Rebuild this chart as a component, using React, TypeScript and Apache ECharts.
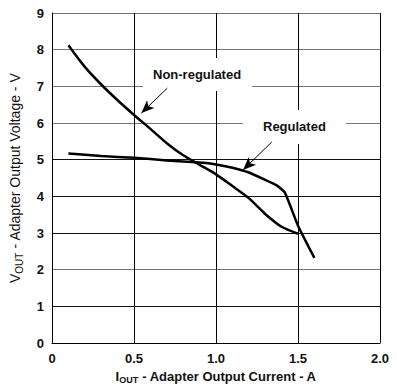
import React, { useEffect, useRef } from "react";
import * as echarts from "echarts";

const regulatedX = [0.1, 0.3, 0.5, 0.7, 0.9, 1.0, 1.1, 1.2, 1.3, 1.37, 1.42, 1.5, 1.6];
const regulatedY = [5.17, 5.1, 5.05, 4.98, 4.92, 4.87, 4.78, 4.65, 4.45, 4.3, 4.1, 3.2, 2.32];

const nonRegX = [0.1, 0.2, 0.3, 0.4, 0.5, 0.6, 0.7, 0.8, 0.9, 1.0, 1.1, 1.2, 1.3, 1.4, 1.5];
const nonRegY = [8.12, 7.53, 7.05, 6.62, 6.22, 5.84, 5.45, 5.12, 4.86, 4.6, 4.28, 3.95, 3.52, 3.17, 2.98];

const xTicks = ["0", "0.5", "1.0", "1.5", "2.0"];

const FONT = "'Liberation Sans', Arial, sans-serif";

export default function App() {
  const ref = useRef<HTMLDivElement>(null);
  useEffect(() => {
    if (!ref.current) return;
    const chart = echarts.init(ref.current, null, { renderer: "svg" });
    const ySplitColors = ["#000", "#111", "#777", "#111", "#111", "#111", "#777", "#777", "#777", "#777"];
    chart.setOption({
      animation: false,
      backgroundColor: "#fff",
      grid: { left: 50, top: 13, right: 17, bottom: 49, containLabel: false },
      xAxis: {
        type: "value",
        min: 0,
        max: 2,
        interval: 0.5,
        name: "{a|I}{s|OUT}{a| - Adapter Output Current - A}",
        nameLocation: "middle",
        nameGap: 26,
        nameTextStyle: {
          rich: {
            a: { fontFamily: FONT, fontSize: 13, fontWeight: "bold", color: "#111", verticalAlign: "bottom" },
            s: { fontFamily: FONT, fontSize: 9, fontWeight: "bold", color: "#111", verticalAlign: "bottom", padding: [0, 0, -2, 0] },
          },
        },
        axisLine: { show: true, lineStyle: { color: "#000", width: 1 } },
        axisTick: { show: false },
        axisLabel: {
          fontFamily: FONT,
          fontSize: 13,
          fontWeight: "bold",
          color: "#111",
          margin: 9,
          formatter: (v: number) => xTicks[Math.round(v / 0.5)] ?? String(v),
        },
        splitLine: { show: true, lineStyle: { color: "#000", width: 1 } },
      },
      yAxis: {
        type: "value",
        min: 0,
        max: 9,
        interval: 1,
        name: "{a|V}{s|OUT}{a| - Adapter Output Voltage - V}",
        nameLocation: "middle",
        nameGap: 30,
        nameRotate: 90,
        nameTextStyle: {
          rich: {
            a: { fontFamily: FONT, fontSize: 14, color: "#111", verticalAlign: "bottom" },
            s: { fontFamily: FONT, fontSize: 10, color: "#111", verticalAlign: "bottom", padding: [0, 0, -2, 0] },
          },
        },
        axisLine: { show: true, lineStyle: { color: "#000", width: 1 } },
        axisTick: { show: false },
        axisLabel: {
          fontFamily: FONT,
          fontSize: 13,
          fontWeight: "bold",
          color: "#111",
          margin: 8,
        },
        splitLine: { show: true, lineStyle: { color: ySplitColors, width: 1 } },
      },
      series: [
        {
          name: "Non-regulated",
          type: "line",
          data: nonRegX.map((x, i) => [x, nonRegY[i]]),
          showSymbol: false,
          smooth: 0.25,
          lineStyle: { color: "#000", width: 2.5 },
          z: 5,
        },
        {
          name: "Regulated",
          type: "line",
          data: regulatedX.map((x, i) => [x, regulatedY[i]]),
          showSymbol: false,
          smooth: 0.15,
          lineStyle: { color: "#000", width: 2.5 },
          z: 5,
          markLine: {
            silent: true,
            animation: false,
            label: { show: false },
            lineStyle: { color: "#000", width: 1, type: "solid" },
            data: [
              [
                { coord: [0.703, 6.95], symbol: "none" },
                { coord: [0.545, 6.27], symbol: "arrow", symbolSize: [8, 13] },
              ],
              [
                { coord: [1.34, 5.48], symbol: "none" },
                { coord: [1.165, 4.72], symbol: "arrow", symbolSize: [8, 13] },
              ],
            ],
          },
        },
      ],
      graphic: [
        {
          type: "text",
          left: 143,
          top: 58,
          z: 3,
          style: {
            text: "Non-regulated",
            fontFamily: FONT,
            fontSize: 13,
            fontWeight: "bold",
            fill: "#111",
            backgroundColor: "#fff",
            padding: [10, 11, 10, 10],
          },
        },
        {
          type: "text",
          left: 243,
          top: 110,
          z: 3,
          style: {
            text: "Regulated",
            fontFamily: FONT,
            fontSize: 13,
            fontWeight: "bold",
            fill: "#111",
            backgroundColor: "#fff",
            padding: [10, 20, 11, 20],
          },
        },
      ],
    });
    return () => chart.dispose();
  }, []);
  return <div ref={ref} style={{ width: 397, height: 392, position: "absolute", left: 0, top: 0 }} />;
}
